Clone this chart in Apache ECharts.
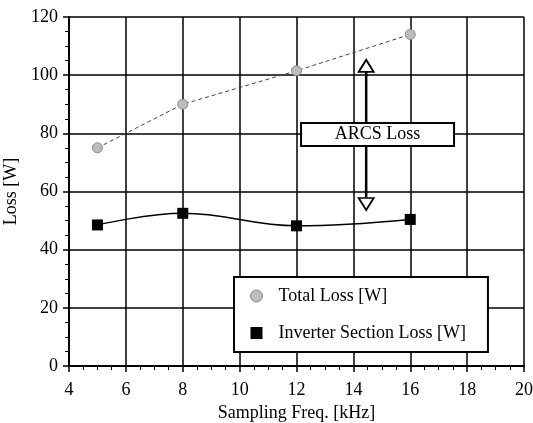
<!DOCTYPE html>
<html lang="en">
<head>
    <meta charset="UTF-8">
    <title>Loss vs Sampling Freq.</title>
</head>
<body style="margin:0;background:#fff">
<div id="lossChart" style="width:533px;height:423px"></div>
<script src="https://cdn.jsdelivr.net/npm/echarts@6/dist/echarts.min.js"></script>
<script type="text/javascript">
    // data
    var freq = [5, 8, 12, 16];
    var totalLoss = [75, 90, 101.5, 114];
    var inverterLoss = [48.5, 52.5, 48.2, 50.4];
    var xTicks = [4, 6, 8, 10, 12, 14, 16, 18, 20];
    var yTicks = [0, 20, 40, 60, 80, 100, 120];

    // ARCS annotation (data units)
    var arrowX = 14.45;
    var arrowSpan = [101.5, 58];
    var arrowHeads = [103.2, 55.7];
    var arcsLabelAt = [14.85, 79.6];

    var serif = 'Liberation Serif';

    function pairs(xs, ys) {
        var out = [];
        for (var i = 0; i < xs.length; i++) {
            out.push([xs[i], ys[i]]);
        }
        return out;
    }

    var chart = echarts.init(document.getElementById('lossChart'));
    var option = {
        animation: false,
        backgroundColor: '#fff',
        textStyle: {fontFamily: serif, color: '#000'},
        grid: {left: 69, right: 9, top: 17, bottom: 57, containLabel: false, outerBoundsMode: 'none'},
        legend: {
            orient: 'vertical',
            left: 234,
            top: 277,
            padding: [10, 22, 10, 16],
            itemGap: 19,
            itemWidth: 12,
            itemHeight: 12,
            borderColor: '#000',
            borderWidth: 2,
            backgroundColor: '#fff',
            textStyle: {fontFamily: serif, fontSize: 18, color: '#000', padding: [0, 0, 0, 11]},
            data: [
                {name: 'Total Loss [W]', icon: 'circle', itemStyle: {color: '#bdbdbd', borderColor: '#888', borderWidth: 1}},
                {name: 'Inverter Section Loss [W]', icon: 'rect'}
            ]
        },
        xAxis: {
            type: 'value',
            min: xTicks[0],
            max: xTicks[xTicks.length - 1],
            interval: 2,
            name: 'Sampling Freq. [kHz]',
            nameLocation: 'middle',
            nameGap: 35,
            nameTextStyle: {fontFamily: serif, fontSize: 18, color: '#000'},
            axisLine: {show: true, lineStyle: {color: '#000', width: 2}},
            axisTick: {show: true, length: 6, lineStyle: {color: '#000', width: 1.5}},
            minorTick: {show: true, splitNumber: 4, length: 4, lineStyle: {color: '#000', width: 1}},
            axisLabel: {fontFamily: serif, fontSize: 18, color: '#000', margin: 15},
            splitLine: {show: true, lineStyle: {color: '#000', width: 1.5}}
        },
        yAxis: {
            type: 'value',
            min: yTicks[0],
            max: yTicks[yTicks.length - 1],
            interval: 20,
            name: 'Loss [W]',
            nameLocation: 'middle',
            nameGap: 46,
            nameTextStyle: {fontFamily: serif, fontSize: 18, color: '#000'},
            axisLine: {show: true, lineStyle: {color: '#000', width: 2}},
            axisTick: {show: true, length: 6, lineStyle: {color: '#000', width: 1.5}},
            minorTick: {show: true, splitNumber: 4, length: 4, lineStyle: {color: '#000', width: 1}},
            axisLabel: {fontFamily: serif, fontSize: 18, color: '#000', margin: 11},
            splitLine: {show: true, lineStyle: {color: '#000', width: 1.5}}
        },
        series: [
            {
                name: 'Total Loss [W]',
                type: 'line',
                data: pairs(freq, totalLoss),
                symbol: 'circle',
                symbolSize: 10,
                lineStyle: {color: '#444', width: 1, type: [4, 3]},
                itemStyle: {color: '#bdbdbd', borderColor: '#888', borderWidth: 1},
                z: 4
            },
            {
                name: 'Inverter Section Loss [W]',
                type: 'line',
                data: pairs(freq, inverterLoss),
                smooth: 0.4,
                symbol: 'rect',
                symbolSize: 11,
                lineStyle: {color: '#000', width: 1.5},
                itemStyle: {color: '#000'},
                z: 4
            },
            {
                name: 'arrowShaft',
                type: 'line',
                data: [[arrowX, arrowSpan[0]], [arrowX, arrowSpan[1]]],
                symbol: 'none',
                lineStyle: {color: '#000', width: 2.5},
                z: 5,
                silent: true
            },
            {
                name: 'arrowHeads',
                type: 'scatter',
                data: [
                    {value: [arrowX, arrowHeads[0]], symbolRotate: 0},
                    {value: [arrowX, arrowHeads[1]], symbolRotate: 180}
                ],
                symbol: 'triangle',
                symbolSize: [15, 12],
                itemStyle: {color: '#fff', borderColor: '#000', borderWidth: 1.8, opacity: 1},
                z: 6,
                silent: true
            },
            {
                name: 'arcsLabel',
                type: 'scatter',
                data: [arcsLabelAt],
                symbolSize: 0,
                itemStyle: {color: '#000', opacity: 1},
                label: {
                    show: true,
                    position: 'inside',
                    formatter: 'ARCS Loss',
                    fontFamily: serif,
                    fontSize: 18,
                    color: '#000',
                    textBorderWidth: 0,
                    backgroundColor: '#fff',
                    borderColor: '#000',
                    borderWidth: 2,
                    width: 151,
                    height: 19,
                    lineHeight: 19,
                    align: 'center',
                    verticalAlign: 'middle',
                    padding: [1, 0, 1, 0]
                },
                z: 7,
                silent: true
            }
        ]
    };
    chart.setOption(option, true);
</script>
</body>
</html>
